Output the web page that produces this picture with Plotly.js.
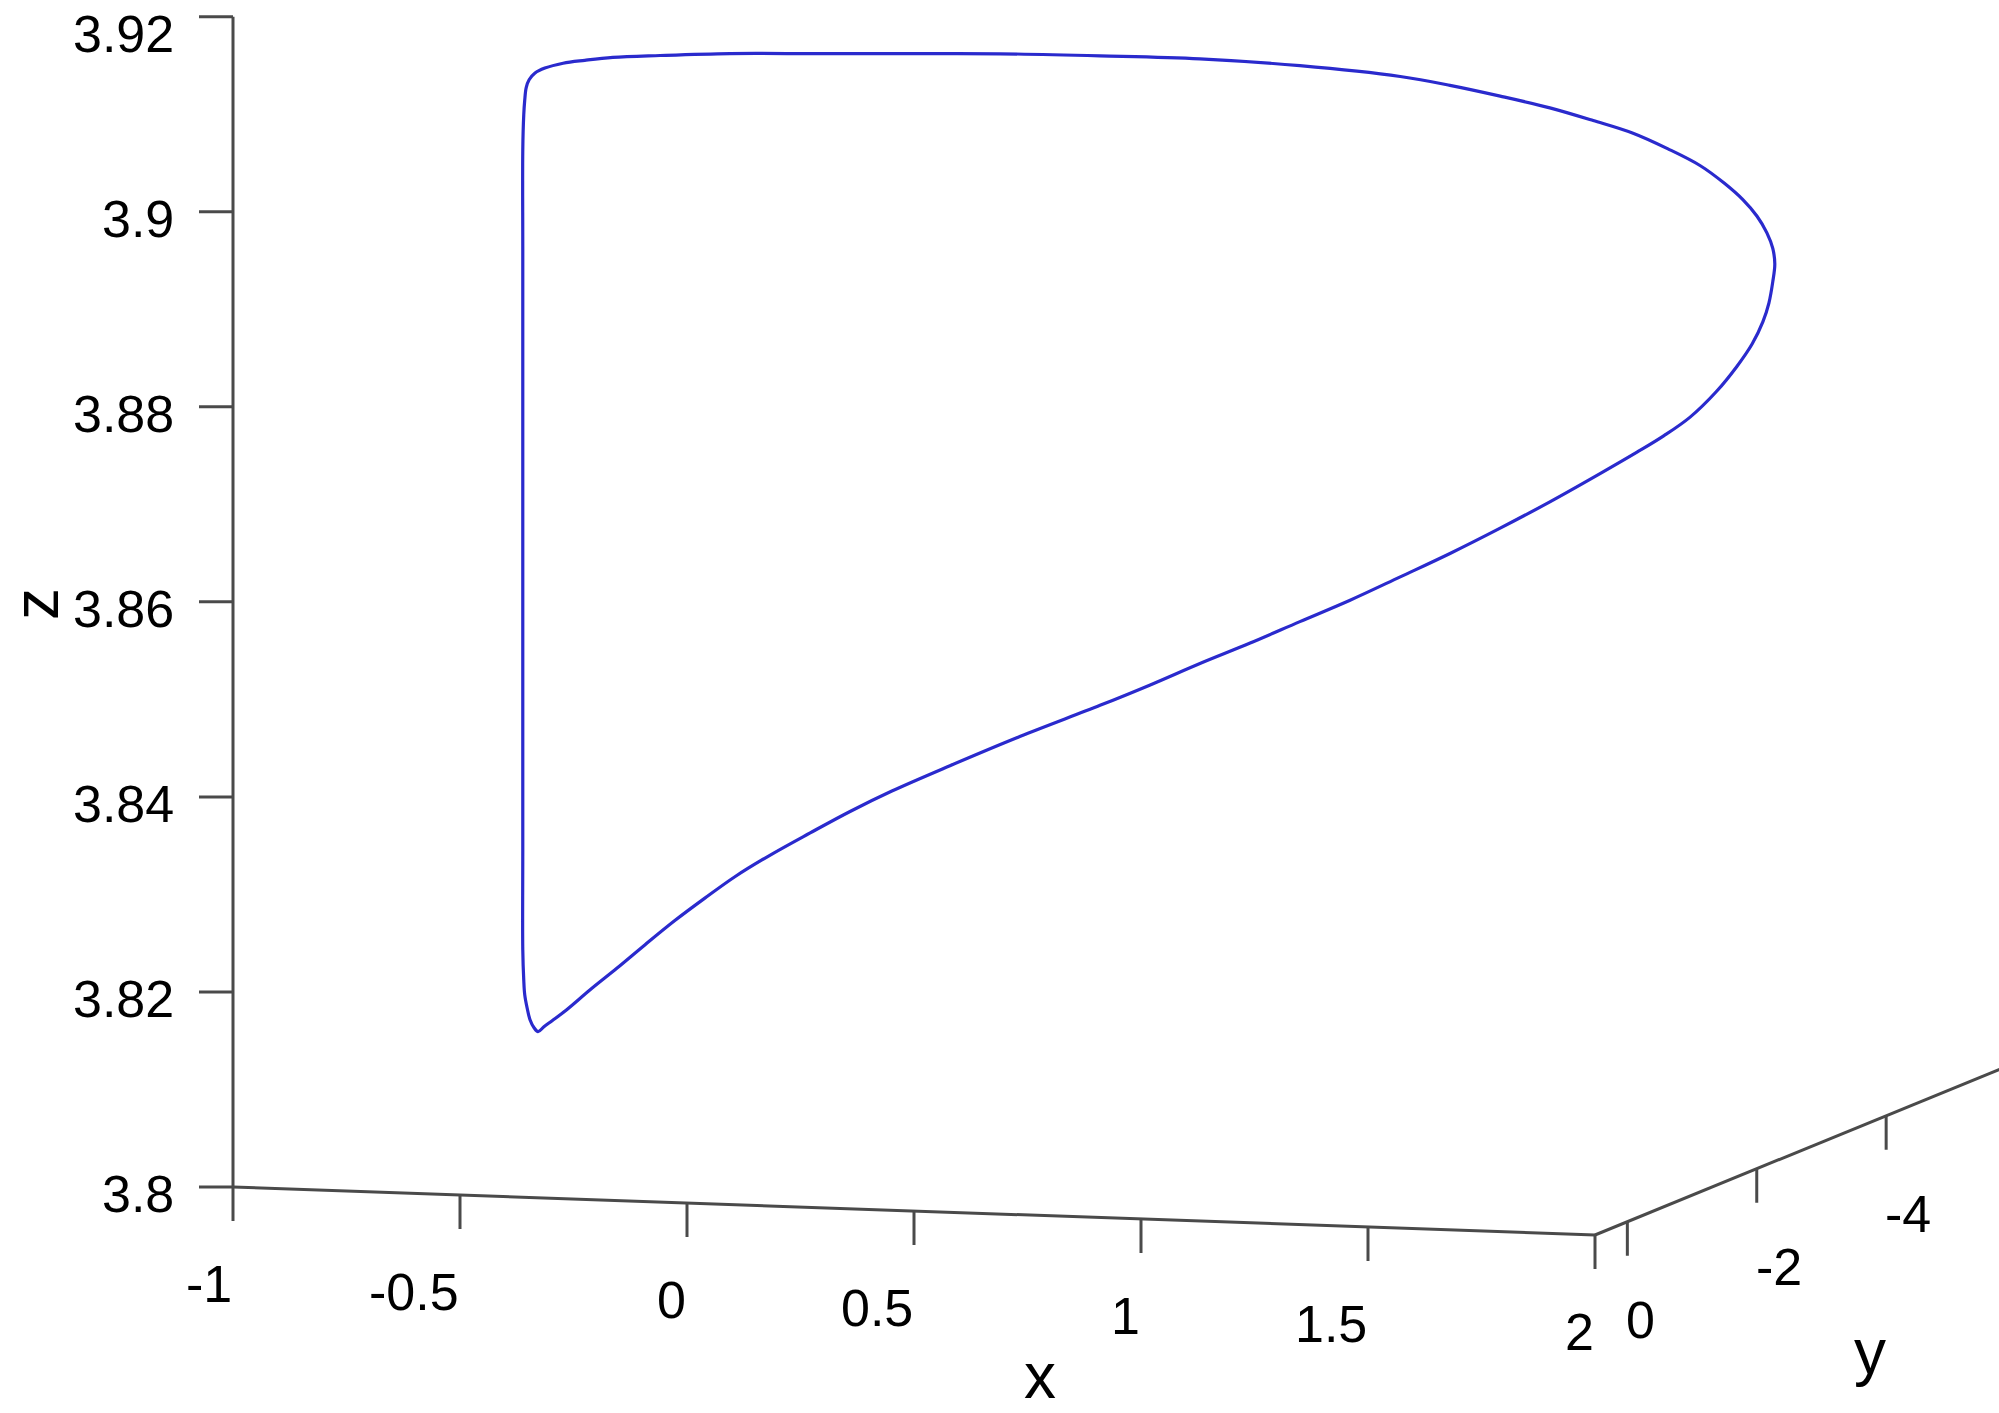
<!DOCTYPE html>
<html><head><meta charset="utf-8">
<script src="https://cdn.plot.ly/plotly-3.0.1.min.js"></script>
<style>html,body{margin:0;padding:0;background:#fff}#chart{width:1999px;height:1413px}</style>
</head><body><div id="chart"></div>
<script>
// ---- data (x, y, z of the closed orbit) ----
const xVals = [-0.687,-0.695,-0.703,-0.709,-0.714,-0.716,-0.718,-0.718,-0.718,-0.718,-0.718,-0.718,-0.718,-0.716,-0.714,-0.711,-0.705,-0.693,-0.673,-0.636,-0.592,-0.535,-0.439,-0.297,-0.122,0.049,0.252,0.455,0.658,0.861,1.065,1.166,1.268,1.369,1.457,1.538,1.609,1.674,1.723,1.761,1.790,1.810,1.822,1.826,1.822,1.814,1.802,1.780,1.749,1.707,1.654,1.601,1.546,
  1.471,1.369,1.268,1.166,1.065,0.963,0.861,0.760,0.658,0.557,0.455,0.292,0.150,0.032,-0.053,-0.134,-0.216,-0.287,-0.348,-0.409,-0.470,-0.527,-0.581,-0.630,-0.659,-0.675,-0.687];
const yVals = [-2.018,-2.013,-2.008,-2.005,-2.002,-2.001,-2.000,-2.000,-2.000,-2.000,-2.000,-2.000,-2.000,-2.001,-2.002,-2.004,-2.007,-2.014,-2.026,-2.048,-2.074,-2.108,-2.164,-2.248,-2.351,-2.452,-2.571,-2.691,-2.811,-2.931,-3.051,-3.111,-3.171,-3.230,-3.282,-3.330,-3.372,-3.410,-3.439,-3.462,-3.478,-3.490,-3.497,-3.500,-3.497,-3.493,-3.485,-3.472,-3.454,-3.429,-3.398,-3.367,-3.335,
  -3.290,-3.230,-3.171,-3.111,-3.051,-2.991,-2.931,-2.871,-2.811,-2.751,-2.691,-2.595,-2.512,-2.442,-2.392,-2.344,-2.296,-2.254,-2.218,-2.182,-2.146,-2.113,-2.080,-2.052,-2.035,-2.025,-2.018];
const zVals = [3.8096,3.8100,3.8108,3.8120,3.8134,3.8149,3.8180,3.8282,3.8436,3.8590,3.8744,3.8897,3.9000,3.9036,3.9051,3.9064,3.9072,3.9079,3.9084,3.9089,3.9092,3.9095,3.9097,3.9099,3.9099,3.9099,3.9099,3.9097,3.9094,3.9087,3.9076,3.9067,3.9056,3.9044,3.9031,3.9018,3.9002,3.8985,3.8967,3.8950,3.8933,3.8916,3.8900,3.8884,3.8866,3.8844,3.8825,3.8802,3.8779,3.8753,3.8727,3.8708,3.8691,
  3.8669,3.8640,3.8613,3.8587,3.8563,3.8539,3.8517,3.8495,3.8474,3.8452,3.8431,3.8399,3.8369,3.8343,3.8322,3.8300,3.8277,3.8255,3.8233,3.8210,3.8185,3.8161,3.8139,3.8118,3.8107,3.8101,3.8096];

// ---- axes: limits and ticks ----
const xRange = [-1, 2];
const yRange = [-6, 0.5];
const zRange = [3.8, 3.92];
const xTicks = [-1, -0.5, 0, 0.5, 1, 1.5, 2];
const xTickText = ['-1', '-0.5', '0', '0.5', '1', '1.5', '2'];
const yTicks = [0, -2, -4];
const yTickText = ['0', '-2', '-4'];
const zTicks = [3.8, 3.82, 3.84, 3.86, 3.88, 3.9, 3.92];
const zTickText = ['3.8', '3.82', '3.84', '3.86', '3.88', '3.9', '3.92'];

// ---- view: orthographic 3-D projection onto the page (y direction reversed) ----
const VIEW = {ox: 233, oy: 1187, ex: [454, 16], ey: [64.7, -26.5], ez: [0, -9753]};
function proj(x, y, z) {
  const a = x - xRange[0], b = yRange[1] - y, c = z - zRange[0];
  return [VIEW.ox + VIEW.ex[0] * a + VIEW.ey[0] * b + VIEW.ez[0] * c,
          VIEW.oy + VIEW.ex[1] * a + VIEW.ey[1] * b + VIEW.ez[1] * c];
}

const FONT = 'Liberation Sans, Arial, sans-serif';
const AXCOL = '#4a4a4a';
const TICKLEN = 34;

// curve
const cx = [], cy = [];
for (let i = 0; i < xVals.length; i++) {
  const p = proj(xVals[i], yVals[i], zVals[i]);
  cx.push(p[0]); cy.push(p[1]);
}

// axis lines: x at (y=max, z=min); z at (x=min, y=max); y at (x=max, z=min)
const ax = [], ay = [];
function seg(p, q) { ax.push(p[0], q[0], null); ay.push(p[1], q[1], null); }
const xmin = xRange[0], xmax = xRange[1], ymin = yRange[0], ymax = yRange[1], zmin = zRange[0], zmax = zRange[1];
seg(proj(xmin, ymax, zmin), proj(xmax, ymax, zmin));
seg(proj(xmin, ymax, zmin), proj(xmin, ymax, zmax));
seg(proj(xmax, ymax, zmin), proj(xmax, ymin, zmin));

const annotations = [];
function label(x, y, text, xanchor, yanchor, size, angle) {
  annotations.push({x: x, y: y, xref: 'x', yref: 'y', text: text, showarrow: false,
    xanchor: xanchor, yanchor: yanchor, textangle: angle || 0,
    font: {family: FONT, size: size, color: '#000'}});
}

xTicks.forEach((v, i) => {
  const p = proj(v, ymax, zmin);
  seg(p, [p[0], p[1] + TICKLEN]);
  label(p[0] + 1, p[1] + 97, xTickText[i], 'right', 'middle', 52);
});
yTicks.forEach((v, i) => {
  const p = proj(xmax, v, zmin);
  seg(p, [p[0], p[1] + TICKLEN]);
  label(p[0] - 3, p[1] + 98, yTickText[i], 'left', 'middle', 52);
});
zTicks.forEach((v, i) => {
  const p = proj(xmin, ymax, v);
  seg(p, [p[0] - TICKLEN, p[1]]);
  label(p[0] - 57, Math.max(p[1] + 7, 34), zTickText[i], 'right', 'middle', 52);
});

// axis titles
label(1040, 1376, 'x', 'center', 'middle', 64);
label(1870, 1352, 'y', 'center', 'middle', 64);
label(36, 604, 'z', 'center', 'middle', 64, -90);

const traces = [
  {type: 'scatter', mode: 'lines', x: ax, y: ay, line: {color: AXCOL, width: 3}, hoverinfo: 'skip', showlegend: false},
  {type: 'scatter', mode: 'lines', x: cx, y: cy, line: {color: 'rgb(42,42,205)', width: 3.2, shape: 'spline', smoothing: 1}, hoverinfo: 'skip', showlegend: false}
];

const layout = {
  width: 1999, height: 1413,
  margin: {l: 0, r: 0, t: 0, b: 0, pad: 0},
  paper_bgcolor: '#fff', plot_bgcolor: '#fff',
  showlegend: false, hovermode: false,
  xaxis: {range: [0, 1999], visible: false, fixedrange: true},
  yaxis: {range: [1413, 0], visible: false, fixedrange: true},
  annotations: annotations
};

Plotly.newPlot('chart', traces, layout, {displayModeBar: false, staticPlot: true});
</script>
</body></html>
